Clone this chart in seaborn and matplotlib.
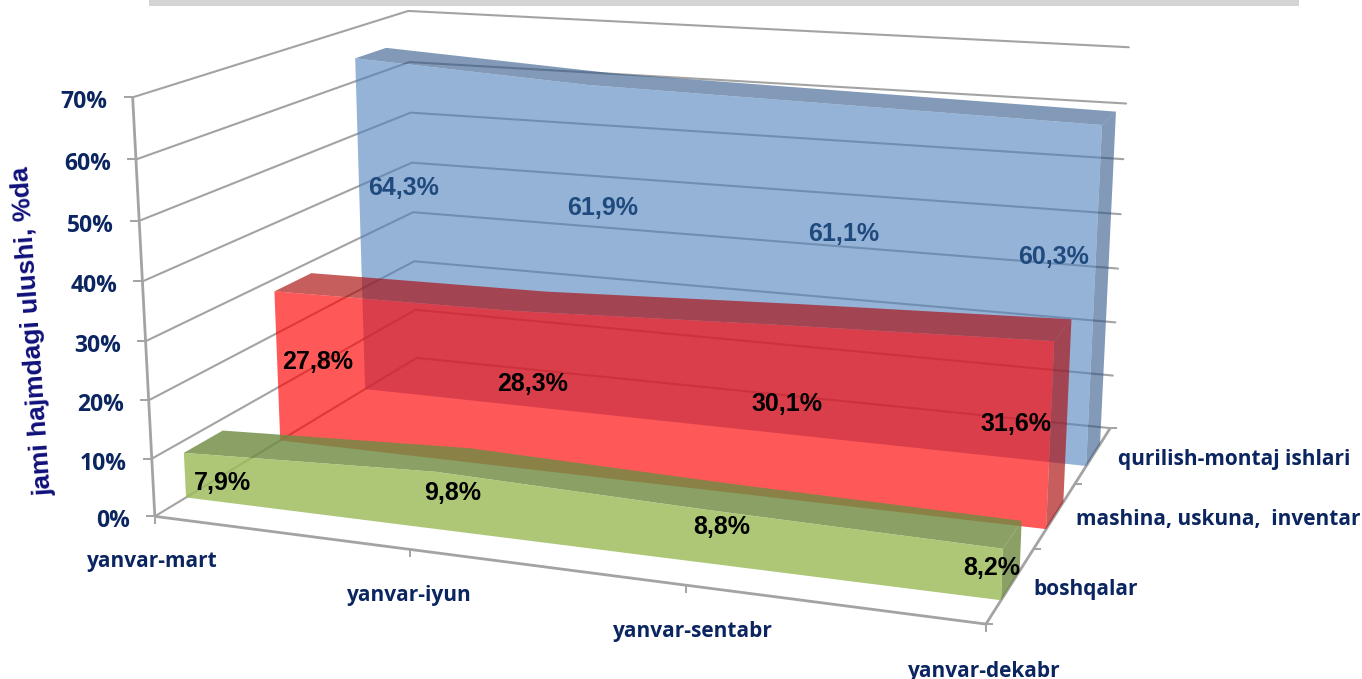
import numpy as np
import pandas as pd
import matplotlib
matplotlib.use("Agg")
import matplotlib.pyplot as plt
import seaborn as sns

# ---------- data ----------
periods = ["yanvar-mart", "yanvar-iyun", "yanvar-sentabr", "yanvar-dekabr"]
series_names = ["boshqalar", "mashina, uskuna,  inventar", "qurilish-montaj ishlari"]
boshqalar = [7.9, 9.8, 8.8, 8.2]
mashina = [27.8, 28.3, 30.1, 31.6]
qurilish = [64.3, 61.9, 61.1, 60.3]
pct_ticks = [0, 10, 20, 30, 40, 50, 60, 70]
y_title = "jami hajmdagi ulushi, %da"

# ---------- 3D box scale (camera fitted to the box corners) ----------
box_pts = [
    (0, 0, 0, 155, 517), (0, 0, 70, 133, 98), (0, 1, 0, 417, 358), (0, 1, 70, 408, 11),
    (1, 1, 0, 1110, 428), (1, 1, 70, 1129, 47), (1, 0, 0, 986, 624),
    (0, 0, 30, 145, 340), (0, 1, 30, 413, 212), (1, 1, 30, 1118, 269),
]
A = []
for u, d, z, x, y in box_pts:
    X = [u, d, z / 70, 1]
    x, y = x / 1000, y / 1000
    A.append(X + [0, 0, 0, 0] + [-x * c for c in X])
    A.append([0, 0, 0, 0] + X + [-y * c for c in X])
CAM = np.linalg.svd(np.array(A, float))[2][-1].reshape(3, 4)


def proj(u, d, z):
    h = CAM @ np.array([u, d, z / 70, 1.0])
    return h[0] / h[2] * 1000, h[1] / h[2] * 1000


# ---------- style / layout ----------
sns.set_theme(style="white")
plt.rcParams["font.family"] = ["Liberation Sans", "DejaVu Sans"]
NAVY = "#0B2560"
GRID = "#A3A3A3"
slabs = [
    (qurilish, 0.77, 0.90, "#4F81BD", "#2F5787", 0.60, "#1F4A7D"),
    (mashina, 0.43, 0.57, "#FF0000", "#AA0A0A", 0.655, "black"),
    (boshqalar, 0.10, 0.23, "#9BBB59", "#708B42", 0.82, "black"),
]
label_xy = {
    "qurilish": [(404, 188), (603, 208), (844, 234), (1054, 257)],
    "mashina": [(318, 362), (533, 384), (787, 404), (1016, 424)],
    "boshqalar": [(222, 483), (453, 493), (722, 527), (992, 568)],
}
label_keys = ["qurilish", "mashina", "boshqalar"]
period_xy = [(152, 562), (409, 596), (693, 632), (984, 671)]
series_xy = [(1086, 589), (1218, 519), (1234, 459)]

fig = plt.figure(figsize=(13.62, 6.79), dpi=100)
ax = fig.add_axes([0, 0, 1, 1])
ax.set_xlim(0, 1362)
ax.set_ylim(679, 0)
ax.axis("off")

ax.add_patch(plt.Rectangle((149, 0), 1150, 6, color="#D4D4D4", lw=0))

# gridlines on the left and back walls
rows = []
for p in pct_ticks:
    for (u, d) in [(0, 0), (0, 1), (1, 1)]:
        x, y = proj(u, d, p)
        rows.append({"px": x, "py": y, "pct": p})
grid = pd.DataFrame(rows)
sns.lineplot(data=grid, x="px", y="py", units="pct", estimator=None, sort=False,
             color=GRID, lw=1.5, ax=ax, legend=False)
ax.set_xlabel("")
ax.set_ylabel("")
ax.set_xlim(0, 1362)
ax.set_ylim(679, 0)


def seg(p, q, lw=2.0, c=GRID):
    ax.plot([p[0], q[0]], [p[1], q[1]], color=c, lw=lw, solid_capstyle="butt", zorder=2)


# axis frame
seg(proj(0, 0, 0), proj(0, 0, 70))
seg(proj(0, 0, 0), proj(1, 0, 0))
seg(proj(1, 0, 0), proj(1, 1, 0))
for p in pct_ticks:
    x, y = proj(0, 0, p)
    seg((x - 9, y), (x, y), lw=1.4)
    ax.text(x - 25, y + 5, f"{p}%", ha="right", va="center", color=NAVY,
            fontsize=16.5, fontweight="bold", family="Open Sans")
for u in np.linspace(0, 1, 4):
    x, y = proj(u, 0, 0)
    seg((x, y), (x, y + 8), lw=1.4)
for d in np.linspace(0, 1, 4):
    x, y = proj(1, d, 0)
    seg((x, y), (x + 7, y), lw=1.4)

# slabs, back to front
us = np.linspace(0, 1, 4)
for (vals, d0, d1, front, dark, alpha, tcol), key in zip(slabs, label_keys):
    z3 = 5
    # top face
    poly = [proj(u, d0, v) for u, v in zip(us, vals)] + [proj(u, d1, v) for u, v in zip(us[::-1], vals[::-1])]
    ax.fill(*zip(*poly), color=dark, alpha=alpha, lw=0, zorder=z3)
    # right side face
    poly = [proj(1, d0, vals[-1]), proj(1, d1, vals[-1]), proj(1, d1, 0), proj(1, d0, 0)]
    ax.fill(*zip(*poly), color=dark, alpha=alpha, lw=0, zorder=z3)
    # front face
    poly = [proj(u, d0, v) for u, v in zip(us, vals)] + [proj(1, d0, 0), proj(0, d0, 0)]
    ax.fill(*zip(*poly), color=front, alpha=alpha, lw=0, zorder=z3)
    for v, (x, y) in zip(vals, label_xy[key]):
        ax.text(x, y, f"{v:.1f}%".replace(".", ","), ha="center", va="center", color=tcol,
                fontsize=18, fontweight="bold", zorder=10)

for name, (x, y) in zip(periods, period_xy):
    ax.text(x, y, name, ha="center", va="center", color=NAVY, fontsize=15,
            fontweight="bold", family="Open Sans")
for name, (x, y) in zip(series_names, series_xy):
    ax.text(x, y, name, ha="center", va="center", color=NAVY, fontsize=15,
            fontweight="bold", family="Open Sans")

ax.text(33, 331, y_title, rotation=94, ha="center", va="center", color="#10107A",
        fontsize=19, fontweight="bold", rotation_mode="anchor")

fig.savefig("out.png", dpi=100)
